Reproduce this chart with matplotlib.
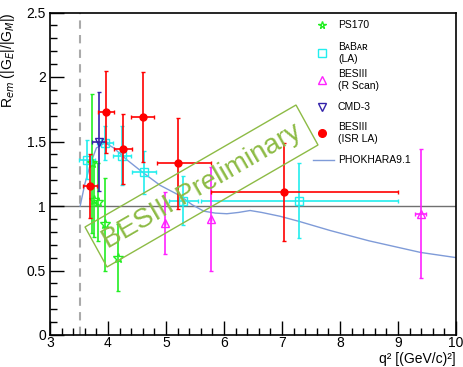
import matplotlib.pyplot as plt
from matplotlib.patches import Polygon
from matplotlib.ticker import MultipleLocator

plt.rcParams['font.family'] = ['Liberation Sans', 'DejaVu Sans']

# PS170
ps_q = [3.72, 3.76, 3.83, 3.95, 4.18]
ps_r = [1.33, 1.05, 1.03, 0.86, 0.60]
ps_err = [0.54, 0.29, 0.30, 0.36, 0.26]

# BaBar (LA)
bb_q = [3.64, 3.95, 4.24, 4.62, 5.30, 7.30]
bb_r = [1.36, 1.49, 1.39, 1.26, 1.04, 1.04]
bb_xerr = [0.14, 0.14, 0.15, 0.20, 0.25, 1.70]
bb_err = [0.15, 0.13, 0.23, 0.17, 0.19, 0.29]

# BESIII (R Scan)
rs_q = [4.99, 5.77, 9.39]
rs_r = [0.87, 0.90, 0.94]
rs_xerr = [0.0, 0.0, 0.09]
rs_err = [0.24, 0.40, 0.50]

# CMD-3
cmd_q = [3.845]
cmd_r = [1.50]
cmd_xerr = [0.12]
cmd_err = [0.38]

# BESIII (ISR LA)
isr_q = [3.69, 3.97, 4.26, 4.60, 5.20, 7.03]
isr_r = [1.155, 1.73, 1.44, 1.69, 1.33, 1.11]
isr_xlo = [0.12, 0.14, 0.155, 0.20, 0.36, 1.26]
isr_xhi = [0.12, 0.14, 0.155, 0.20, 0.57, 1.97]
isr_err = [0.25, 0.32, 0.27, 0.35, 0.35, 0.38]

# PHOKHARA9.1
ph_q = [3.52, 3.60, 3.70, 3.80, 3.95, 4.10, 4.32, 4.60, 4.90, 5.24, 5.45, 5.65,
        5.85, 6.05, 6.25, 6.45, 6.65, 6.97, 7.30, 7.83, 8.50, 9.39, 10.0]
ph_r = [1.00, 1.17, 1.33, 1.45, 1.49, 1.45, 1.36, 1.26, 1.16, 1.08, 1.01, 0.96,
        0.945, 0.94, 0.95, 0.965, 0.95, 0.92, 0.88, 0.81, 0.73, 0.64, 0.60]

threshold = 3.52

fig = plt.figure(figsize=(4.63, 3.67), dpi=100)
ax = fig.add_axes([50/463, 1-335/367, 406/463, 322.5/367])

ax.axhline(1.0, color='#707070', lw=1, zorder=1)
ax.axvline(threshold, color='#aaaaaa', lw=1.5, ls=(0, (4, 3)), zorder=1)

ax.plot(ph_q, ph_r, color='#7f9bd8', lw=1, zorder=2)

ax.errorbar(ps_q, ps_r, yerr=ps_err, fmt='*', color='#22ee22', mfc='none',
            ms=7, mew=1, elinewidth=1.2, capsize=1.5, zorder=4)
ax.errorbar(bb_q, bb_r, xerr=bb_xerr, yerr=bb_err, fmt='s', color='#22eeee', mfc='none',
            ms=6, mew=1, elinewidth=1.2, capsize=1.5, zorder=4)
ax.errorbar(rs_q, rs_r, xerr=rs_xerr, yerr=rs_err, fmt='^', color='#ff22ff', mfc='none',
            ms=6, mew=1, elinewidth=1.2, capsize=1.5, zorder=4)
ax.errorbar(cmd_q, cmd_r, xerr=cmd_xerr, yerr=cmd_err, fmt='v', color='#3322aa', mfc='none',
            ms=6, mew=1, elinewidth=1.2, capsize=1.5, zorder=4)
ax.errorbar(isr_q, isr_r, xerr=[isr_xlo, isr_xhi], yerr=isr_err, fmt='o', color='red',
            ms=5, elinewidth=1.2, capsize=1.5, zorder=5)

ax.set_xlim(3, 10)
ax.set_ylim(0, 2.5)
ax.xaxis.set_major_locator(MultipleLocator(1))
ax.xaxis.set_minor_locator(MultipleLocator(0.2))
ax.yaxis.set_major_locator(MultipleLocator(0.5))
ax.yaxis.set_minor_locator(MultipleLocator(0.1))
ax.yaxis.set_major_formatter(plt.FuncFormatter(lambda v, p: f'{v:g}'))
ax.tick_params(which='both', direction='in', labelsize=10, width=1)
ax.tick_params(axis='x', which='major', length=10, pad=0.5)
ax.tick_params(axis='y', which='major', length=10, pad=3)
ax.tick_params(which='minor', length=5)
for s in ax.spines.values():
    s.set_linewidth(1.2)

fig.text(456/463, 1.5/367, 'q\u00b2 [(GeV/c)\u00b2]', fontsize=10, ha='right', va='bottom')
ax.set_ylabel(r'R$_{em}$ (|G$_E$|/|G$_M$|)', loc='top', fontsize=10, labelpad=7)

# legend
leg = [('*', '#22ee22', 'none', 'PS170'),
       ('s', '#22eeee', 'none', 'B\u1d00B\u1d00\u0280\n(LA)'),
       ('^', '#ff22ff', 'none', 'BESIII\n(R Scan)'),
       ('v', '#3322aa', 'none', 'CMD-3'),
       ('o', 'red', 'red', 'BESIII\n(ISR LA)')]
ys = [25, 53, 80, 107, 133]
for (m, c, fc, lab), y in zip(leg, ys):
    fy = 1 - y / 367
    fig.lines.append(plt.Line2D([322/463], [fy], marker=m, color=c, mfc=fc, ms=5.5,
                                transform=fig.transFigure))
    fig.text(338/463, fy, lab, fontsize=7.5, va='center', ha='left', linespacing=1.3)
fy = 1 - 160 / 367
fig.lines.append(plt.Line2D([313/463, 334/463], [fy, fy], color='#7f9bd8', lw=1,
                            transform=fig.transFigure))
fig.text(338/463, fy, 'PHOKHARA9.1', fontsize=7.5, va='center', ha='left')

# preliminary stamp
corners = [(107, 267), (318, 145), (296, 105), (85, 227)]
poly = Polygon([(x/463, 1 - y/367) for x, y in corners], closed=True, fill=False,
               edgecolor='#8dbb45', lw=1, transform=fig.transFigure, zorder=6)
fig.patches.append(poly)
fig.text(201.5/463, 1 - 186/367, 'BESIII Preliminary', fontsize=20, color='#8dbb45',
         rotation=30, rotation_mode='anchor', ha='center', va='center', zorder=6)

fig.savefig('out.png', dpi=100)
